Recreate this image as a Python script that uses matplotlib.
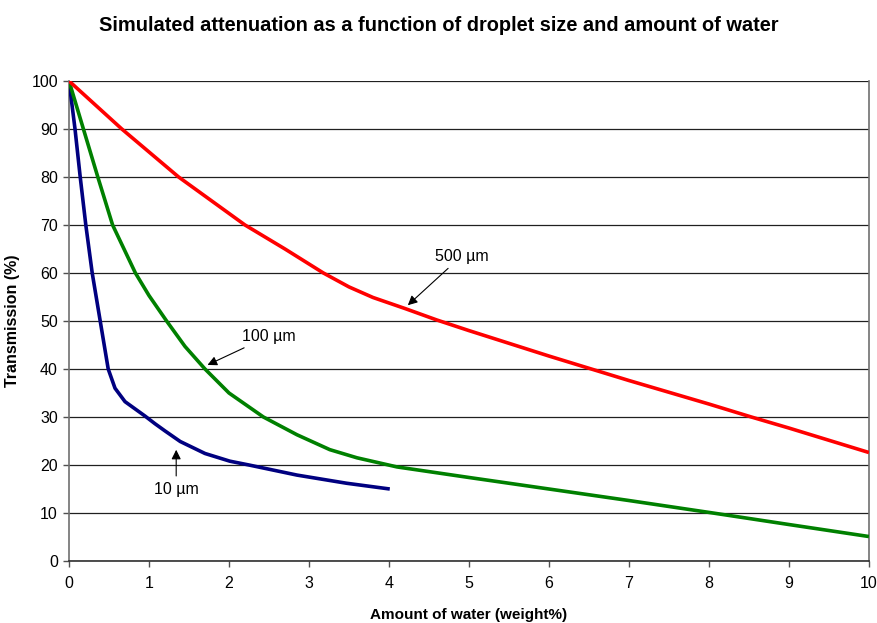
import matplotlib.pyplot as plt

plt.rcParams['font.family'] = ['Liberation Sans', 'DejaVu Sans']

# 10 um droplets
x10 = [0, 0.075, 0.14, 0.21, 0.29, 0.39, 0.49, 0.575, 0.70, 0.95, 1.075, 1.2, 1.39, 1.70, 2.01, 2.25,
       2.85, 3.47, 4.01]
y10 = [100, 90, 80, 70, 60, 50, 40, 36, 33.2, 30.2, 28.6, 27.1, 24.9, 22.4, 20.8, 20.0,
       17.9, 16.2, 15.0]

# 100 um droplets
x100 = [0, 0.18, 0.36, 0.545, 0.83, 1.0, 1.22, 1.45, 1.70, 2.0, 2.43, 2.85, 3.26, 3.6, 4.1,
        5, 6, 7, 8.05, 9, 10]
y100 = [100, 90, 80, 70, 60, 55.3, 50, 44.7, 40, 35, 30, 26.3, 23.2, 21.5, 19.6,
        17.4, 15.0, 12.6, 10, 7.6, 5.1]

# 500 um droplets
x500 = [0, 0.66, 1.37, 2.2, 2.7, 3.18, 3.5, 3.8, 4.2, 4.6, 5, 6, 7, 8, 8.53, 9, 10]
y500 = [100, 90, 80, 70, 65, 60, 57.1, 54.9, 52.6, 50.2, 48.0, 42.7, 37.6, 32.7, 30, 27.7, 22.6]

fig = plt.figure(figsize=(8.78, 6.23), dpi=100)
ax = fig.add_axes([0.0786, 0.0995, 0.9111, 0.7705])

ax.plot(x10, y10, color='#000080', lw=2.6, solid_capstyle='butt', solid_joinstyle='round', zorder=3)
ax.plot(x100, y100, color='#008000', lw=2.6, solid_capstyle='butt', solid_joinstyle='round', zorder=3)
ax.plot(x500, y500, color='#ff0000', lw=2.6, solid_capstyle='butt', solid_joinstyle='round', zorder=3)

ax.set_xlim(0, 10)
ax.set_ylim(0, 100)
ax.set_xticks(range(0, 11))
ax.set_yticks(range(0, 101, 10))
ax.yaxis.grid(True, color='#202020', lw=0.9)
ax.set_axisbelow(True)
ax.tick_params(labelsize=11.5, length=4, width=1, color='#505050')
ax.tick_params(axis='x', pad=7)
ax.tick_params(axis='y', pad=4)
for s in ['left', 'right', 'bottom']:
    ax.spines[s].set_color('#707070')
    ax.spines[s].set_linewidth(1.2)
ax.spines['bottom'].set_color('#303030')
ax.spines['top'].set_visible(False)

arrow = dict(arrowstyle='-|>', color='black', lw=0.8, mutation_scale=14)
ax.annotate('500 \u00b5m', xy=(4.21, 52.9), xytext=(4.57, 63.5), fontsize=11.5,
            va='center', ha='left', arrowprops=arrow)
ax.annotate('100 \u00b5m', xy=(1.70, 40.6), xytext=(2.16, 46.8), fontsize=11.5,
            va='center', ha='left', arrowprops=arrow)
ax.annotate('10 \u00b5m', xy=(1.34, 23.75), xytext=(1.06, 15.0), fontsize=11.5,
            va='center', ha='left', arrowprops=arrow)

ax.set_xlabel('Amount of water (weight%)', fontsize=11, fontweight='bold', labelpad=12)
ax.set_ylabel('Transmission (%)', fontsize=11.5, fontweight='bold')
ax.yaxis.set_label_coords(-0.061, 0.5)
fig.suptitle('Simulated attenuation as a function of droplet size and amount of water',
             fontsize=14.4, fontweight='bold', y=0.975)

fig.savefig('out.png', dpi=100)
